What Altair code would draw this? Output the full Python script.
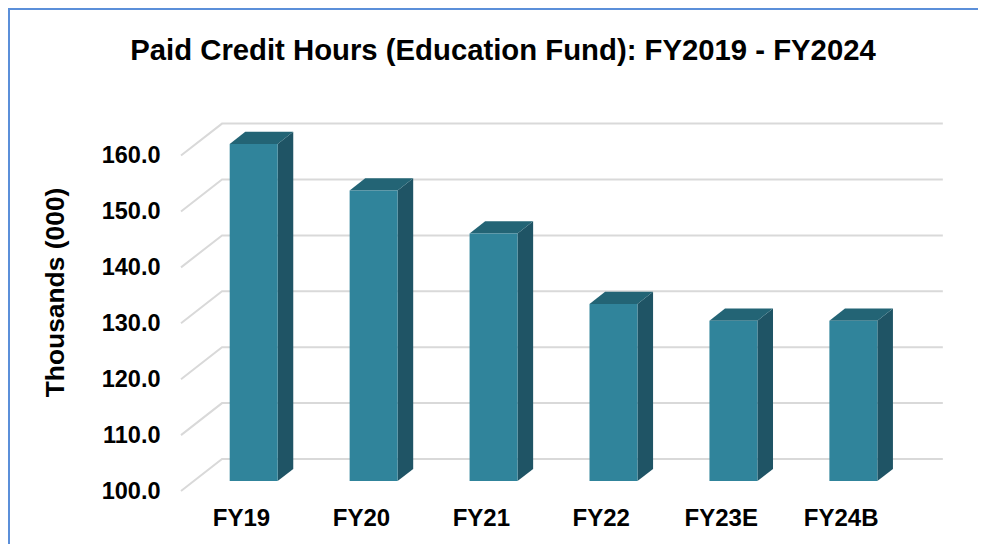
import altair as alt
import pandas as pd

categories = ["FY19", "FY20", "FY21", "FY22", "FY23E", "FY24B"]
values = [160.3, 152.0, 144.3, 131.7, 128.7, 128.7]
grid_values = [100, 110, 120, 130, 140, 150, 160]

# 3-D projection, in scale units
DX, DY = 0.342, 5.72
NEAR, FAR = 0.31, 0.69
BAR_W = 0.4
X_DOM = [-0.5, 5.87]
Y_DOM = [100, 165.65]
FONT = "Liberation Sans"

grid_rows = []
for v in grid_values:
    for k, (gx, gy) in enumerate([(X_DOM[0], v), (X_DOM[0] + DX, v + DY), (5.51 + DX, v + DY)]):
        grid_rows.append({"tick": v, "k": k, "x": gx, "y": gy})

front_rows, side_rows, top_rows = [], [], []
for i, (c, v) in enumerate(zip(categories, values)):
    L = i + DX * NEAR - BAR_W / 2
    R = L + BAR_W
    T = v + DY * NEAR
    B = 100 + DY * NEAR
    d, e = DX * (FAR - NEAR), DY * (FAR - NEAR)
    front_rows.append({"c": c, "x": L, "x2": R, "y": T, "y2": B})
    side_rows += [{"c": c, "x": R, "y": T, "y2": B}, {"c": c, "x": R + d, "y": T + e, "y2": B + e}]
    top_rows += [
        {"c": c, "x": L, "y": T, "y2": T},
        {"c": c, "x": L + d, "y": T + e, "y2": T},
        {"c": c, "x": R, "y": T + e, "y2": T},
        {"c": c, "x": R + d, "y": T + e, "y2": T + e},
    ]

labels_js = "[" + ",".join(f"'{c}'" for c in categories) + "]"
x_enc = alt.X("x:Q", scale=alt.Scale(domain=X_DOM, nice=False, zero=False),
              axis=alt.Axis(values=list(range(6)), labelExpr=f"{labels_js}[datum.value]",
                            title=None, grid=False, domain=False, ticks=False,
                            labelFont=FONT, labelFontWeight="bold", labelFontSize=24,
                            labelColor="#000000", labelPadding=15, labelOverlap=False,
                            labelFlush=False))
y_enc = alt.Y("y:Q", scale=alt.Scale(domain=Y_DOM, nice=False, zero=False),
              axis=alt.Axis(values=grid_values, format=".1f", title="Thousands (000)",
                            grid=False, domain=False, ticks=False,
                            labelFont=FONT, labelFontWeight="bold", labelFontSize=23.5,
                            labelColor="#000000", labelPadding=21,
                            titleFont=FONT, titleFontWeight="bold", titleFontSize=26.4,
                            titleColor="#000000", titleX=-112, titleY=168,
                            titleAlign="center", titleAngle=270))

grid = alt.Chart(pd.DataFrame(grid_rows)).mark_line(color="#d9d9d9", strokeWidth=2, clip=False).encode(
    x=x_enc, y=y_enc, detail="tick:N", order="k:Q")
side = alt.Chart(pd.DataFrame(side_rows)).mark_area(color="#1f5465", opacity=1).encode(
    x="x:Q", y="y:Q", y2="y2:Q", detail="c:N")
top = alt.Chart(pd.DataFrame(top_rows)).mark_area(color="#236475", opacity=1).encode(
    x="x:Q", y="y:Q", y2="y2:Q", detail="c:N")
front = alt.Chart(pd.DataFrame(front_rows)).mark_rect(color="#30849b").encode(
    x="x:Q", x2="x2:Q", y="y:Q", y2="y2:Q")

border_top = alt.Chart(pd.DataFrame({"a": [0]})).mark_rule(color="#5b8fd9", strokeWidth=2).encode(
    x=alt.value(-173), x2=alt.value(797), y=alt.value(-115))
border_left = alt.Chart(pd.DataFrame({"a": [0]})).mark_rule(color="#5b8fd9", strokeWidth=2).encode(
    x=alt.value(-172), y=alt.value(-116), y2=alt.value(425))

chart = alt.layer(grid, side, top, front, border_top, border_left).properties(
    width=764, height=367,
    padding={"left": 173, "top": 116, "right": 33, "bottom": 53},
    autosize=alt.AutoSizeParams(type="none"),
    background="#ffffff",
    title=alt.TitleParams("Paid Credit Hours (Education Fund): FY2019 - FY2024",
                          font=FONT, fontWeight="bold", fontSize=29.3, color="#000000",
                          anchor="middle", dx=-60, offset=-59),
).configure_view(stroke=None)

chart.save("out.html", embed_options={"renderer": "svg", "actions": False})
